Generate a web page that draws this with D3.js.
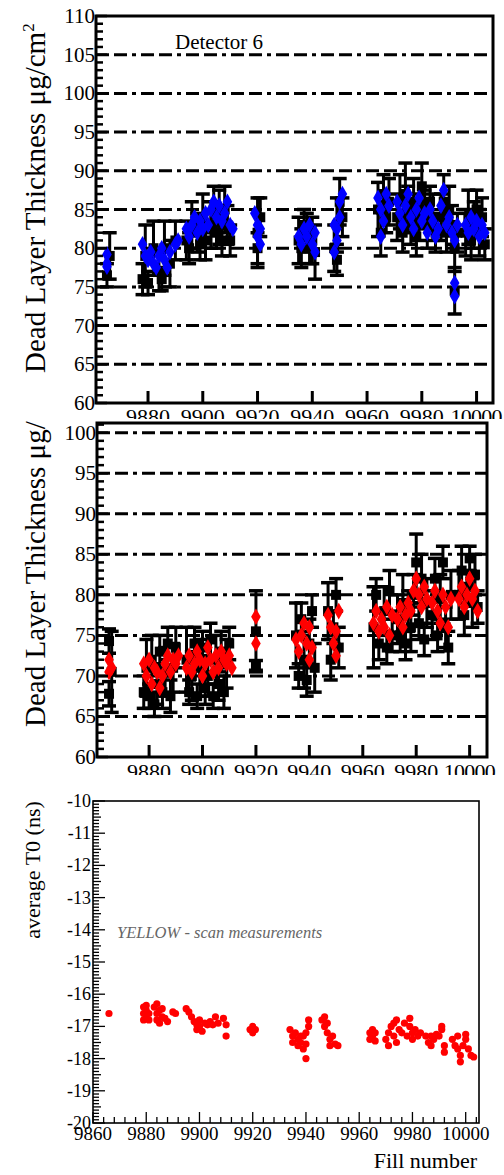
<!DOCTYPE html>
<html>
<head>
<meta charset="utf-8">
<script src="https://cdn.jsdelivr.net/npm/d3@7"></script>
<style>
  body { margin: 0; background: #fff; }
  svg { display: block; }
</style>
</head>
<body>
<div id="chart"></div>
<script>
// ---- data ----
const fillTicks = [9880, 9900, 9920, 9940, 9960, 9980, 10000];
const fillTicks3 = [9860, 9880, 9900, 9920, 9940, 9960, 9980, 10000];
const thickTicks1 = [60, 65, 70, 75, 80, 85, 90, 95, 100, 105, 110];
const thickTicks2 = [60, 65, 70, 75, 80, 85, 90, 95, 100];
const t0Ticks = [-20, -19, -18, -17, -16, -15, -14, -13, -12, -11, -10];

// panel 1: black = [fill, thickness, error], blue = [fill, thickness]
const det6Black = [
  [9865, 76.5, 1.5], [9866, 79, 3],
  [9878, 76, 2], [9879, 79, 4], [9880, 75.5, 1.5], [9882, 80, 3.5], [9884, 77, 2.5],
  [9885, 76, 1.5], [9886, 80, 3.5], [9888, 78, 3], [9890, 81, 2.5],
  [9894, 81, 2.5], [9895, 80, 2], [9896, 83, 3], [9898, 82, 2.5], [9899, 80.5, 2],
  [9900, 84, 3], [9901, 81, 2.5], [9903, 83, 3], [9904, 85, 3], [9905, 82, 2],
  [9906, 84, 3.5], [9907, 81, 2], [9908, 85, 3], [9909, 83, 2.5], [9910, 81, 2],
  [9920, 82, 4.5], [9920, 80, 2], [9921, 84, 2.5],
  [9935, 81, 3], [9936, 80, 2.5], [9937, 83, 2], [9938, 82, 2.5], [9939, 80, 2],
  [9940, 81, 3], [9941, 79.5, 3.5],
  [9948, 80, 3], [9949, 83, 3.5], [9950, 86, 3], [9951, 84, 2.5], [9949, 78.5, 2],
  [9964, 85, 3.5], [9965, 82, 3], [9966, 87, 2.5], [9967, 84, 2], [9968, 86, 3],
  [9971, 84, 3], [9972, 86, 3.5], [9973, 82, 2.5], [9974, 87, 4], [9975, 85, 3],
  [9976, 83, 2.5], [9977, 86, 3], [9978, 81.5, 2.5], [9979, 84, 3], [9980, 88, 3],
  [9981, 85, 2.5], [9982, 83, 3], [9983, 86, 2], [9984, 84, 3], [9985, 82, 2.5],
  [9987, 84, 3], [9988, 86, 3.5], [9989, 82, 2.5], [9990, 85, 3], [9991, 83, 2.5],
  [9992, 80, 3], [9992, 74.5, 3], [9993, 82, 2.5],
  [9996, 82, 3], [9997, 84, 3.5], [9998, 81, 2.5], [9999, 83, 3], [10000, 85, 2.5],
  [10001, 82, 3], [10002, 84, 2.5], [10003, 80.5, 2]
];
const det6Blue = [
  [9865, 79.2], [9865, 78.0], [9865, 77.6],
  [9878, 80.5], [9879, 79], [9880, 78.5], [9881, 79.5], [9882, 78], [9883, 77.5],
  [9884, 79], [9885, 80], [9886, 78.5], [9887, 77.5], [9888, 79.5], [9890, 80.5], [9891, 81],
  [9894, 82.5], [9895, 81.5], [9896, 83], [9897, 84], [9898, 82], [9899, 83.5],
  [9900, 82.5], [9901, 84.5], [9902, 83], [9903, 85], [9904, 86], [9905, 84],
  [9906, 85.5], [9907, 83.5], [9908, 84.5], [9909, 86], [9910, 83], [9911, 82.5],
  [9919, 84.5], [9920, 83], [9920, 81.5], [9921, 80.5], [9921, 82.5],
  [9935, 81.5], [9936, 80.5], [9937, 82.5], [9938, 81.5], [9939, 83], [9940, 80.5],
  [9941, 79.5], [9941, 82],
  [9948, 79.5], [9949, 81], [9949, 82.5], [9950, 84], [9950, 86], [9951, 87], [9948, 83],
  [9964, 86.5], [9965, 85], [9966, 83.5], [9967, 87], [9968, 85.5], [9965, 81.5],
  [9971, 86], [9972, 84.5], [9973, 83], [9974, 85.5], [9975, 87], [9976, 84],
  [9977, 82.5], [9978, 85], [9979, 86.5], [9980, 83.5], [9981, 84.5], [9982, 82],
  [9983, 85], [9984, 83.5], [9985, 81.5], [9986, 82.5],
  [9987, 85.5], [9988, 87.5], [9989, 83], [9990, 84], [9991, 82], [9992, 81],
  [9992, 75.5], [9992, 73.8], [9993, 83],
  [9996, 83], [9997, 82], [9998, 84], [9999, 82.5], [10000, 83.5], [10001, 81.5],
  [10002, 83], [10003, 82]
];

// panel 2: black = [fill, thickness, error], red = [fill, thickness]
const p2Black = [
  [9865, 74.3, 1.5], [9865, 67.8, 1.5], [9866, 70.5, 5],
  [9878, 68, 2], [9879, 71, 3.5], [9880, 67.5, 1.5], [9881, 72, 3], [9882, 66.5, 1.5],
  [9883, 69, 2.5], [9884, 73, 2], [9885, 68, 2], [9886, 70.5, 3], [9887, 74, 2],
  [9888, 67.5, 2], [9889, 71, 3], [9890, 73.5, 2.5],
  [9894, 72, 4], [9895, 68, 1.5], [9896, 70, 3], [9897, 74, 2], [9898, 67.5, 1.5],
  [9899, 71, 3.5], [9900, 73.5, 2], [9901, 68.5, 2], [9902, 70, 2.5], [9903, 74.5, 2],
  [9904, 67.5, 1.5], [9905, 72, 3], [9906, 69, 2], [9907, 73, 2.5], [9908, 68, 2],
  [9909, 71.5, 3], [9910, 74, 2],
  [9920, 75.5, 5], [9920, 71.3, 0.6],
  [9935, 75, 4], [9936, 70, 1.5], [9937, 77, 2], [9938, 72, 3.5], [9939, 69.5, 2],
  [9940, 74, 3], [9941, 78, 2], [9942, 71, 3],
  [9947, 78, 3.5], [9948, 72, 2.5], [9949, 76, 2], [9950, 80, 2], [9951, 73.5, 2.5],
  [9964, 76, 5], [9965, 80, 2], [9966, 74, 2], [9968, 78, 3], [9969, 73.5, 2],
  [9970, 80.5, 2.5], [9971, 75, 2],
  [9973, 77, 3], [9974, 75, 2], [9975, 79, 3.5], [9976, 74, 2], [9977, 78, 2.5],
  [9978, 76, 3], [9979, 80, 2.5], [9980, 84, 3.5], [9981, 76.5, 2], [9982, 82, 3],
  [9983, 74.5, 2], [9984, 79, 3],
  [9986, 77.5, 3], [9987, 82, 2.5], [9988, 75, 2], [9989, 79.5, 3], [9990, 84, 2],
  [9991, 76, 2.5], [9992, 73.5, 2], [9993, 80, 3],
  [9996, 80, 3], [9997, 83, 3], [9998, 77.5, 2.5], [9999, 81, 2], [10000, 84.5, 1.5],
  [10001, 79, 3], [10002, 82.5, 2.5], [10003, 78.5, 2]
];
const p2Red = [
  [9865, 72], [9865, 70.5], [9866, 71],
  [9878, 71.5], [9879, 70], [9880, 72], [9881, 69], [9882, 71], [9883, 70.5],
  [9884, 68.5], [9885, 70], [9886, 71.5], [9887, 72.5], [9888, 70.5], [9889, 72],
  [9890, 71.5], [9891, 72.5],
  [9894, 71], [9895, 72.5], [9896, 70.5], [9897, 71.5], [9898, 73], [9899, 72],
  [9900, 70], [9901, 71.5], [9902, 73.5], [9903, 72], [9904, 70.5], [9905, 72.5],
  [9906, 71], [9907, 73], [9908, 72], [9909, 71.5], [9910, 72.5], [9911, 71],
  [9920, 77.3], [9920, 74],
  [9935, 74.5], [9936, 73], [9937, 75], [9938, 76.5], [9939, 74], [9940, 72],
  [9941, 73.5], [9940, 76],
  [9947, 77.5], [9948, 76], [9949, 74], [9950, 72.5], [9951, 78], [9950, 75.5],
  [9964, 76.5], [9965, 78], [9966, 75.5], [9967, 77], [9968, 76], [9969, 78.5],
  [9970, 75], [9971, 77.5],
  [9973, 77], [9974, 78.5], [9975, 76], [9976, 77.5], [9977, 79], [9978, 78],
  [9979, 80.5], [9980, 82], [9981, 80], [9982, 78.5], [9983, 81], [9984, 79.5],
  [9986, 79], [9987, 80.5], [9988, 78], [9989, 76.5], [9990, 80], [9991, 78.5],
  [9992, 76], [9993, 79.5],
  [9996, 79.5], [9997, 81], [9998, 78.5], [9999, 80], [10000, 82], [10001, 79.5],
  [10002, 80.5], [10003, 78]
];

// panel 3: [fill, average T0]
const t0Points = [
  [9866, -16.6],
  [9879, -16.4], [9879, -16.6], [9879, -16.8], [9880, -16.5], [9880, -16.7], [9880, -16.35],
  [9881, -16.6], [9881, -16.8],
  [9883, -16.4], [9884, -16.3], [9884, -16.6], [9884, -16.8], [9885, -16.5], [9885, -16.9],
  [9886, -16.7], [9886, -16.45], [9887, -16.75], [9888, -16.85], [9890, -16.55], [9891, -16.6],
  [9895, -16.45], [9896, -16.55], [9897, -16.7], [9898, -16.85], [9899, -16.95], [9899, -17.1],
  [9900, -17.0], [9900, -16.8], [9901, -17.15], [9902, -16.9], [9903, -16.95], [9904, -16.85],
  [9905, -16.95], [9906, -16.7], [9907, -16.9], [9909, -16.75], [9910, -16.95], [9910, -17.3],
  [9919, -17.1], [9920, -17.0], [9920, -17.2], [9921, -17.1],
  [9934, -17.1], [9935, -17.3], [9935, -17.5], [9936, -17.2], [9937, -17.4], [9937, -17.6],
  [9938, -17.3], [9938, -17.5], [9939, -17.7], [9939, -17.3], [9940, -17.55], [9940, -18.0],
  [9940, -17.2], [9941, -16.8], [9941, -17.0],
  [9946, -16.8], [9947, -16.7], [9947, -17.0], [9948, -16.9], [9948, -17.2], [9949, -17.4],
  [9949, -17.6], [9950, -17.3], [9951, -17.55], [9952, -17.6],
  [9964, -17.2], [9964, -17.4], [9965, -17.1], [9965, -17.3], [9966, -17.45], [9966, -17.2],
  [9970, -17.4], [9971, -17.2], [9971, -17.6], [9972, -17.0], [9973, -17.3], [9973, -16.9],
  [9974, -16.8], [9974, -17.5], [9975, -17.1],
  [9976, -17.2], [9977, -16.9], [9978, -17.3], [9979, -16.75], [9979, -17.0], [9980, -17.2],
  [9980, -17.4], [9981, -17.1], [9982, -17.3], [9983, -17.2],
  [9985, -17.3], [9986, -17.5], [9987, -17.6], [9987, -17.3], [9988, -17.4], [9989, -17.25],
  [9990, -17.3], [9991, -17.1], [9991, -17.0], [9992, -17.8], [9992, -17.6],
  [9995, -17.4], [9996, -17.6], [9997, -17.7], [9997, -17.3], [9998, -17.9], [9998, -18.1],
  [9999, -17.6], [10000, -17.4], [10000, -17.25], [10001, -17.7], [10002, -17.9], [10003, -17.95]
];

const W = 504, H = 1175;
const serif = '"Liberation Serif", "Times New Roman", Times, "DejaVu Serif", serif';
const svg = d3.select('#chart').append('svg').attr('width', W).attr('height', H)
  .attr('font-family', serif).style('font-family', serif);
const defs = svg.append('defs');

// draws one of the two dead layer panels
function thicknessPanel(o) {
  const x = d3.scaleLinear().domain(o.xDomain).range([o.left, o.right]);
  const y = d3.scaleLinear().domain(o.yDomain).range([o.bottom, o.top]);
  const g = svg.append('g');

  // dash-dot grid
  g.append('g').selectAll('line')
    .data(o.yTicks.filter(v => v > o.yDomain[0] && v < o.yDomain[1] - 1))
    .enter().append('line')
    .attr('x1', o.left).attr('x2', o.right)
    .attr('y1', d => y(d)).attr('y2', d => y(d))
    .attr('stroke', '#000').attr('stroke-width', 3)
    .attr('stroke-dasharray', '13,5,13,5,4,5');

  // error bars of the black series
  const eb = g.append('g').attr('stroke', '#000').attr('stroke-width', 3);
  eb.selectAll('line.v').data(o.black).enter().append('line').attr('class', 'v')
    .attr('x1', d => x(d[0])).attr('x2', d => x(d[0]))
    .attr('y1', d => y(d[1] - d[2])).attr('y2', d => y(d[1] + d[2]));
  eb.selectAll('line.lo').data(o.black).enter().append('line').attr('class', 'lo')
    .attr('x1', d => x(d[0]) - 7).attr('x2', d => x(d[0]) + 7)
    .attr('y1', d => y(d[1] - d[2])).attr('y2', d => y(d[1] - d[2]))
    .attr('stroke-width', 3.5);
  eb.selectAll('line.hi').data(o.black).enter().append('line').attr('class', 'hi')
    .attr('x1', d => x(d[0]) - 7).attr('x2', d => x(d[0]) + 7)
    .attr('y1', d => y(d[1] + d[2])).attr('y2', d => y(d[1] + d[2]))
    .attr('stroke-width', 3.5);
  g.append('g').selectAll('rect').data(o.black).enter().append('rect')
    .attr('x', d => x(d[0]) - 5).attr('y', d => y(d[1]) - 5)
    .attr('width', 10).attr('height', 10).attr('fill', '#000');

  // coloured series on top
  g.append('g').selectAll('path').data(o.colored).enter().append('path')
    .attr('d', d3.symbol(d3.symbolDiamond, 80))
    .attr('transform', d => `translate(${x(d[0])},${y(d[1])})`)
    .attr('fill', o.color);

  // frame
  g.append('rect').attr('x', o.left).attr('y', o.top)
    .attr('width', o.right - o.left).attr('height', o.bottom - o.top)
    .attr('fill', 'none').attr('stroke', '#000').attr('stroke-width', 3);

  // y ticks: major every 5, minor every 1
  const minor = d3.range(o.yDomain[0], o.yDomain[1] + 0.001, 1);
  g.append('g').selectAll('line').data(minor).enter().append('line')
    .attr('x1', o.left).attr('x2', d => o.left + (d % 5 === 0 ? 11 : 7))
    .attr('y1', d => y(d)).attr('y2', d => y(d))
    .attr('stroke', '#000').attr('stroke-width', 2.5);
  g.append('g').selectAll('text').data(o.yTicks).enter().append('text')
    .attr('x', o.left - 1).attr('y', d => y(d) + 7)
    .attr('text-anchor', 'end')
    .attr('font-size', 21).text(d => d);

  // x ticks
  g.append('g').selectAll('line').data(fillTicks).enter().append('line')
    .attr('x1', d => x(d)).attr('x2', d => x(d))
    .attr('y1', o.bottom).attr('y2', o.bottom - 12)
    .attr('stroke', '#000').attr('stroke-width', 3);

  const clipId = 'clip' + o.id;
  defs.append('clipPath').attr('id', clipId).append('rect')
    .attr('x', 0).attr('y', o.bottom).attr('width', W).attr('height', o.labelClip - o.bottom);
  g.append('g').attr('clip-path', `url(#${clipId})`)
    .selectAll('text').data(fillTicks).enter().append('text')
    .attr('x', d => x(d)).attr('y', o.labelBase)
    .attr('text-anchor', 'middle').attr('font-size', 22)
    .attr('textLength', d => (String(d).length === 5 ? 52 : 44))
    .text(d => d);

  // y axis title
  const tId = 'tclip' + o.id;
  defs.append('clipPath').attr('id', tId).append('rect')
    .attr('x', 0).attr('y', o.titleClip).attr('width', 95).attr('height', H);
  g.append('g').attr('clip-path', `url(#${tId})`).append('text')
    .attr('transform', `translate(45,${o.titleY}) rotate(-90)`)
    .attr('text-anchor', 'start').attr('font-size', 29)
    .html('Dead Layer Thickness μg/cm<tspan dy="-11" font-size="17">2</tspan>');

  return g;
}

const p1 = thicknessPanel({
  id: 1, left: 96, right: 493, top: 16, bottom: 403,
  xDomain: [9861, 10006], yDomain: [60, 110], yTicks: thickTicks1,
  black: det6Black, colored: det6Blue, color: '#0000ff',
  labelBase: 424, labelClip: 419, titleY: 373, titleClip: 0
});
p1.append('text').attr('x', 175).attr('y', 49).attr('font-size', 21).text('Detector 6');

thicknessPanel({
  id: 2, left: 97, right: 487, top: 423, bottom: 757,
  xDomain: [9860.5, 10006.5], yDomain: [60, 101.2], yTicks: thickTicks2,
  black: p2Black, colored: p2Red, color: '#ff0000',
  labelBase: 779, labelClip: 775, titleY: 727, titleClip: 421
});

// ---- panel 3: average T0 ----
const x3 = d3.scaleLinear().domain([9860, 10005]).range([93, 479]);
const y3 = d3.scaleLinear().domain([-20, -10]).range([1123, 801]);
const g3 = svg.append('g');

g3.append('g').selectAll('circle').data(t0Points).enter().append('circle')
  .attr('cx', d => x3(d[0])).attr('cy', d => y3(d[1])).attr('r', 3.6)
  .attr('fill', '#ff0000');

g3.append('rect').attr('x', 93).attr('y', 801).attr('width', 479 - 93).attr('height', 1123 - 801)
  .attr('fill', 'none').attr('stroke', '#000').attr('stroke-width', 1.6);

const minor3 = d3.range(0, 101).map(i => -20 + i * 0.1);
g3.append('g').selectAll('line').data(minor3).enter().append('line')
  .attr('x1', 93).attr('x2', (d, i) => 93 + (i % 10 === 0 ? 12 : (i % 5 === 0 ? 8 : 6)))
  .attr('y1', d => y3(d)).attr('y2', d => y3(d))
  .attr('stroke', '#000').attr('stroke-width', 1.3);
g3.append('g').selectAll('text').data(t0Ticks).enter().append('text')
  .attr('x', 91).attr('y', d => y3(d) + 6)
  .attr('text-anchor', 'end').attr('font-size', 18).text(d => d);

const minorX3 = d3.range(9860, 10005, 4);
g3.append('g').selectAll('line').data(minorX3).enter().append('line')
  .attr('x1', d => x3(d)).attr('x2', d => x3(d))
  .attr('y1', 1123).attr('y2', d => 1123 - ((d - 9860) % 20 === 0 ? 11 : 6))
  .attr('stroke', '#000').attr('stroke-width', 1.3);
g3.append('g').selectAll('text').data(fillTicks3).enter().append('text')
  .attr('x', d => x3(d)).attr('y', 1140)
  .attr('text-anchor', 'middle').attr('font-size', 19).text(d => d);

g3.append('text').attr('transform', 'translate(40,870) rotate(-90)')
  .attr('text-anchor', 'middle').attr('font-size', 22).text('average T0 (ns)');
g3.append('text').attr('x', 117).attr('y', 938)
  .attr('font-size', 16.5).attr('font-style', 'italic').attr('fill', '#666')
  .text('YELLOW - scan measurements');
g3.append('text').attr('x', 477).attr('y', 1168)
  .attr('text-anchor', 'end').attr('font-size', 22).text('Fill number');
</script>
</body>
</html>
